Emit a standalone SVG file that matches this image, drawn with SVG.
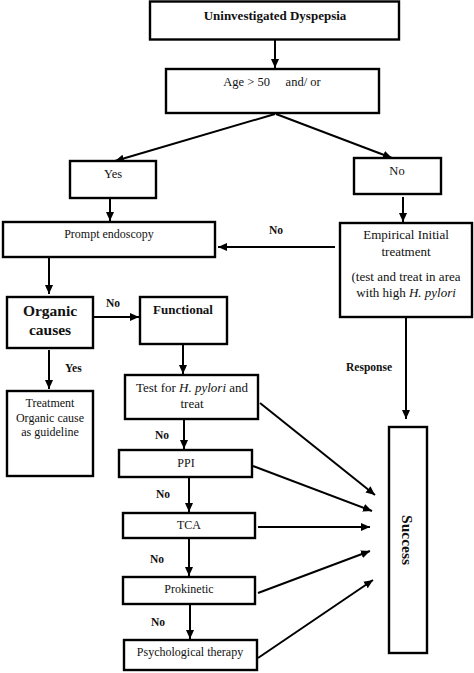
<svg xmlns="http://www.w3.org/2000/svg" width="474" height="673" viewBox="0 0 474 673">
<defs>
<marker id="ah" markerUnits="userSpaceOnUse" markerWidth="10" markerHeight="10" viewBox="0 0 10 10" refX="9" refY="5" orient="auto">
<path d="M0,1 L9,5 L0,9 Z" fill="#000"/>
</marker>
</defs>
<style>
.box{fill:#fff;stroke:#000;stroke-width:2.4}
.t{font-family:"Liberation Serif","Times New Roman",serif;fill:#111;text-anchor:middle}
.b{font-weight:bold}
.lbl{font-family:"Liberation Serif","Times New Roman",serif;font-size:11.5px;font-weight:bold;fill:#111}
.c{stroke:#000;stroke-width:2;fill:none;marker-end:url(#ah)}
</style>
<rect width="474" height="673" fill="#fff"/>
<g id="connectors">
<line class="c" x1="275" y1="40" x2="275" y2="68"/>
<line class="c" x1="275" y1="114" x2="115" y2="161"/>
<line class="c" x1="276" y1="114" x2="392" y2="158"/>
<line class="c" x1="110" y1="199" x2="110" y2="221"/>
<line class="c" x1="403" y1="197" x2="403" y2="222"/>
<line class="c" x1="335" y1="247" x2="218" y2="247"/>
<line class="c" x1="49" y1="258" x2="49" y2="294"/>
<line class="c" x1="94" y1="317" x2="139" y2="317"/>
<line class="c" x1="183" y1="345" x2="183" y2="374"/>
<line class="c" x1="49" y1="350" x2="49" y2="389"/>
<line class="c" x1="406" y1="318" x2="406" y2="419"/>
<line class="c" x1="184" y1="420" x2="184" y2="449"/>
<line class="c" x1="260" y1="403" x2="375" y2="495"/>
<line class="c" x1="253" y1="466" x2="372" y2="511"/>
<line class="c" x1="189" y1="478" x2="189" y2="512"/>
<line class="c" x1="258" y1="527" x2="370" y2="527"/>
<line class="c" x1="189" y1="539" x2="189" y2="576"/>
<line class="c" x1="258" y1="593" x2="370" y2="551"/>
<line class="c" x1="190" y1="605" x2="190" y2="639"/>
<line class="c" x1="258" y1="658" x2="373" y2="580"/>
<text class="lbl" x="269" y="234">No</text>
<text class="lbl" x="106" y="307">No</text>
<text class="lbl" x="65" y="372">Yes</text>
<text class="lbl" x="346" y="371">Response</text>
<text class="lbl" x="155" y="439">No</text>
<text class="lbl" x="156" y="498">No</text>
<text class="lbl" x="150" y="563">No</text>
<text class="lbl" x="151" y="626">No</text>
</g>
<g id="n-dyspepsia"><rect class="box" x="150" y="1.5" width="249" height="38"/><text class="t b" x="275" y="20" style="font-size:13px">Uninvestigated Dyspepsia</text></g>
<g id="n-age"><rect class="box" x="166" y="69" width="213" height="44"/><text class="t" x="272" y="86" style="font-size:12.5px" xml:space="preserve">Age &gt; 50     and/ or</text></g>
<g id="n-yes"><rect class="box" x="70" y="161" width="86" height="37"/><text class="t" x="113" y="178" style="font-size:12.5px">Yes</text></g>
<g id="n-no"><rect class="box" x="354" y="158" width="87" height="36"/><text class="t" x="397" y="175" style="font-size:12.5px">No</text></g>
<g id="n-endoscopy"><rect class="box" x="3" y="222" width="212" height="35"/><text class="t" x="109" y="238" style="font-size:12px">Prompt endoscopy</text></g>
<g id="n-empirical"><rect class="box" x="340" y="223" width="132" height="94"/>
<text class="t" x="406" y="239" style="font-size:13px">Empirical Initial</text>
<text class="t" x="406" y="256" style="font-size:13px">treatment</text>
<text class="t" x="406" y="281" style="font-size:13px">(test and treat in area</text>
<text class="t" x="406" y="297" style="font-size:13px">with high <tspan font-style="italic">H. pylori</tspan></text></g>
<g id="n-organic"><rect class="box" x="7" y="297" width="86" height="51"/>
<text class="t b" x="50" y="316" style="font-size:15.5px">Organic</text>
<text class="t b" x="50" y="335" style="font-size:15.5px">causes</text></g>
<g id="n-functional"><rect class="box" x="140" y="297" width="87" height="47"/><text class="t b" x="183" y="314" style="font-size:13px">Functional</text></g>
<g id="n-treatment"><rect class="box" x="7" y="391" width="86" height="85"/>
<text class="t" x="50" y="407" style="font-size:12px">Treatment</text>
<text class="t" x="50" y="422" style="font-size:12px">Organic cause</text>
<text class="t" x="50" y="436" style="font-size:12px">as guideline</text></g>
<g id="n-test"><rect class="box" x="125" y="375" width="133" height="44"/>
<text class="t" x="192" y="392" style="font-size:13px">Test for <tspan font-style="italic">H. pylori</tspan> and</text>
<text class="t" x="192" y="408" style="font-size:13px">treat</text></g>
<g id="n-ppi"><rect class="box" x="119" y="450" width="133" height="27"/><text class="t" x="186" y="467" style="font-size:12px">PPI</text></g>
<g id="n-tca"><rect class="box" x="123" y="513" width="132" height="25"/><text class="t" x="189" y="529" style="font-size:12px">TCA</text></g>
<g id="n-prokinetic"><rect class="box" x="123" y="577" width="132" height="27"/><text class="t" x="189" y="593" style="font-size:12px">Prokinetic</text></g>
<g id="n-psych"><rect class="box" x="124" y="640" width="133" height="30"/><text class="t" x="190" y="656" style="font-size:12px">Psychological therapy</text></g>
<g id="n-success"><rect class="box" x="389" y="427" width="38" height="226"/><text class="t b" style="font-size:15.5px" transform="translate(402,540) rotate(90)">Success</text></g>
</svg>
